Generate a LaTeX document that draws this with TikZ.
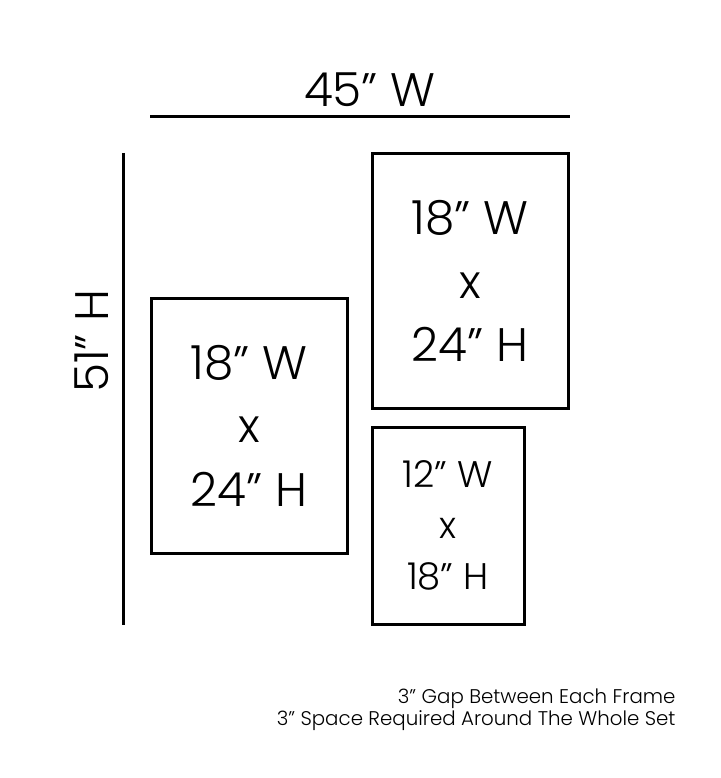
\documentclass[tikz,border=0pt]{standalone}
\usepackage{fontspec}
\setmainfont{Poppins}[UprightFont=* Light]
\usetikzlibrary{positioning}

\begin{document}
\begin{tikzpicture}[x=1pt,y=-1pt,
	frame/.style={draw,rectangle,line width=3pt,inner sep=0pt,align=center},
	bigtext/.style={font=\fontsize{47}{63.5}\selectfont},
	smalltext/.style={font=\fontsize{37}{51}\selectfont},
	dimline/.style={line width=3pt}]
	\useasboundingbox (0,0) rectangle (720,778);
	% overall size
	\coordinate (wl) at (150,117);
	\coordinate (wr) at (570,117);
	\coordinate (ht) at (123,153);
	\coordinate (hb) at (123,625);
	\draw[dimline] (wl) -- (wr);
	\draw[dimline] (ht) -- (hb);
	\node[bigtext] (wlabel) at (370,90) {45" W};
	\node[bigtext,rotate=90] (hlabel) at (92,341) {51" H};
	% frames
	\node[frame,bigtext,minimum width=196,minimum height=255] (left) at (249,425.5) {18" W\\x\\24" H};
	\node[frame,bigtext,minimum width=196,minimum height=254] (topright) at (470,281) {18" W\\x\\24" H};
	\node[frame,smalltext,minimum width=152,minimum height=197] (small) at (448,525.5) {12" W\\x\\18" H};
	% notes
	\node[anchor=base east,align=right,font=\fontsize{19.8}{22}\selectfont] (notes) at (679,725) {3" Gap Between Each Frame\\3" Space Required Around The Whole Set};
\end{tikzpicture}
\end{document}
